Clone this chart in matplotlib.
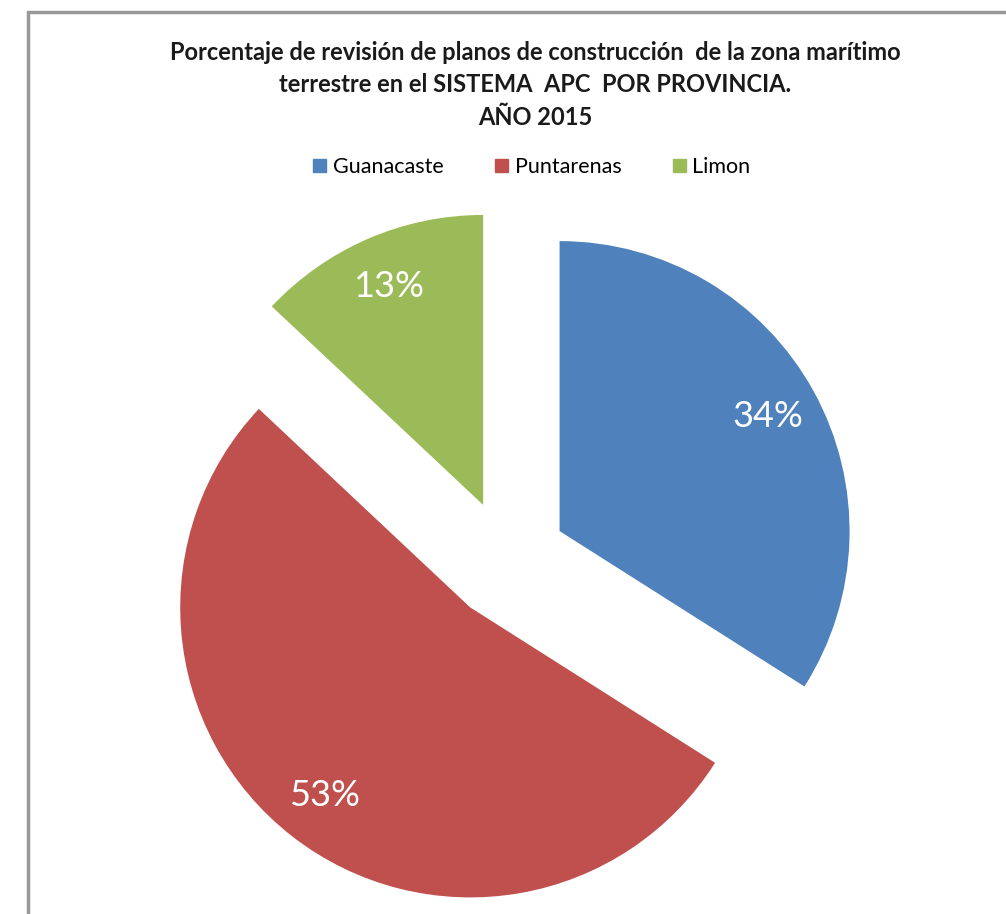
import matplotlib

matplotlib.use("Agg")
import matplotlib.pyplot as plt
from matplotlib.patches import Rectangle

# Data
provinces = ["Guanacaste", "Puntarenas", "Limon"]
shares = [34, 53, 13]
colors = ["#4F81BD", "#C0504D", "#9BBB59"]

TITLE = ("Porcentaje de revisión de planos de construcción  de la zona marítimo\n"
         "terrestre en el SISTEMA  APC  POR PROVINCIA.\n"
         "AÑO 2015")

W, H = 1006, 914
fig = plt.figure(figsize=(W / 100, H / 100), dpi=100)
fig.patch.set_facecolor("white")

# chart frame (right and bottom edges fall outside the picture)
fig.patches.append(Rectangle((28 / W, -0.01), 1.0, 1 - 12 / H + 0.01,
                             transform=fig.transFigure, fill=False,
                             edgecolor="#999999", linewidth=2.5))

ax = fig.add_axes([0, 0, 1, 1])
ax.axis("off")

wedges, texts, autotexts = ax.pie(
    shares,
    colors=colors,
    center=(507, H - 560),
    radius=290,
    explode=[60, 60, 60],
    startangle=90,
    counterclock=False,
    autopct=lambda p: f"{round(p):d}%",
    pctdistance=0.82,
    textprops=dict(color="white", fontsize=26, family="Lato"),
    wedgeprops=dict(linewidth=0),
)
ax.set_aspect("auto")
ax.set_xlim(0, W)
ax.set_ylim(0, H)

fig.text(535 / W, 1 - 85 / H, TITLE, ha="center", va="center",
         fontsize=17, fontweight="bold", family="Lato", color="#1a1a1a",
         linespacing=1.5)

handles = [Rectangle((0, 0), 1, 1, color=c) for c in colors]
fig.legend(handles, provinces, loc="center", bbox_to_anchor=(532 / W, 1 - 167 / H),
           ncol=3, frameon=False, handlelength=0.6, handleheight=0.6,
           handletextpad=0.3, columnspacing=2.4, prop=dict(family="Lato", size=15.5))

fig.savefig("out.png", dpi=100, facecolor="white")
